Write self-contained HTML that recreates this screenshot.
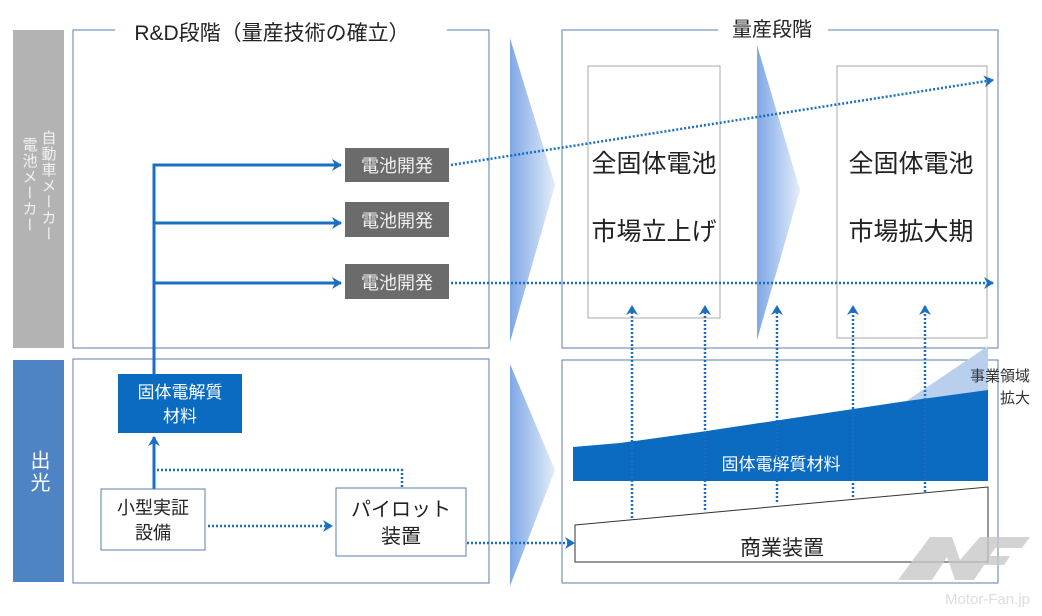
<!DOCTYPE html>
<html><head><meta charset="utf-8"><style>
html,body{margin:0;padding:0;background:#fff;}
svg{display:block;font-family:"Liberation Sans","Noto Sans CJK JP",sans-serif;}
</style></head><body>
<svg width="1042" height="616" viewBox="0 0 1042 616" xmlns="http://www.w3.org/2000/svg">
<defs>
<linearGradient id="chev" x1="0" y1="0" x2="1" y2="0">
<stop offset="0" stop-color="#7fa8e6"/><stop offset="1" stop-color="#e3edf9"/>
</linearGradient>
<marker id="ah" markerWidth="12" markerHeight="12" refX="9" refY="6" orient="auto" markerUnits="userSpaceOnUse">
<path d="M0,0 L10,6 L0,12 L3,6 Z" fill="#1a6fc0"/></marker>
</defs>
<rect x="13" y="30" width="51" height="318" fill="#b3b3b3"/>
<text font-size="15" fill="#f2f2f2" writing-mode="tb" x="48" y="130" letter-spacing="1">自動車メーカー</text>
<text font-size="15" fill="#f2f2f2" writing-mode="tb" x="29" y="137" letter-spacing="1">電池メーカー</text>
<rect x="13" y="360" width="51" height="222" fill="#4f84c4"/>
<text font-size="20" fill="#fff" writing-mode="tb" x="38" y="450" letter-spacing="2">出光</text>
<path d="M115,30 L73,30 L73,348 L489,348 L489,30 L447,30" fill="none" stroke="#5a7fae" stroke-width="1"/>
<text x="272" y="40" font-size="21" fill="#222" text-anchor="middle">R&amp;D段階（量産技術の確立）</text>
<rect x="73" y="359" width="416" height="224" fill="none" stroke="#5a7fae" stroke-width="1"/>
<polygon points="510,38 555,185 510,342" fill="url(#chev)"/>
<polygon points="510,364 555,470 510,586" fill="url(#chev)"/>
<polygon points="757,45 800,190 757,340" fill="url(#chev)"/>
<path d="M718,30 L562,30 L562,348 L998,348 L998,30 L828,30" fill="none" stroke="#5a7fae" stroke-width="1"/>
<text x="772" y="36" font-size="20" fill="#222" text-anchor="middle">量産段階</text>
<rect x="562" y="360" width="436" height="223" fill="none" stroke="#5a7fae" stroke-width="1"/>
<rect x="588" y="66" width="132" height="252" fill="#fff" stroke="#aaa" stroke-width="1"/>
<rect x="837" y="66" width="150" height="272" fill="#fff" stroke="#aaa" stroke-width="1"/>
<text x="654" y="172" font-size="25" fill="#222" text-anchor="middle">全固体電池</text>
<text x="654" y="240" font-size="25" fill="#222" text-anchor="middle">市場立上げ</text>
<text x="911" y="172" font-size="25" fill="#222" text-anchor="middle">全固体電池</text>
<text x="911" y="240" font-size="25" fill="#222" text-anchor="middle">市場拡大期</text>
<polygon points="905,402 988,346 988,392" fill="#b8d0ee"/>
<polygon points="573,447 620,443 700,432 800,417 900,402 988,390 988,481 573,481" fill="#0a6bc0"/>
<text x="781" y="470" font-size="17" fill="#fff" text-anchor="middle">固体電解質材料</text>
<polygon points="575,525 988,487 988,562 575,562" fill="#fff" stroke="#333" stroke-width="1"/>
<text x="782" y="555" font-size="21" fill="#222" text-anchor="middle">商業装置</text>
<text x="1030" y="381" font-size="15" fill="#333" text-anchor="end">事業領域</text>
<text x="1030" y="403" font-size="15" fill="#333" text-anchor="end">拡大</text>
<g stroke="#1a6fc0" stroke-width="2.5" stroke-dasharray="2,2" fill="none">
<line x1="632" y1="518" x2="632" y2="306" marker-end="url(#ah)"/>
<line x1="705" y1="510" x2="705" y2="306" marker-end="url(#ah)"/>
<line x1="777" y1="502" x2="777" y2="306" marker-end="url(#ah)"/>
<line x1="853" y1="497" x2="853" y2="306" marker-end="url(#ah)"/>
<line x1="925" y1="492" x2="925" y2="306" marker-end="url(#ah)"/>
<line x1="451" y1="165" x2="993" y2="80" marker-end="url(#ah)"/>
<line x1="451" y1="283" x2="993" y2="283" marker-end="url(#ah)"/>
<polyline points="157,470 402,470 402,488"/>
<line x1="208" y1="526" x2="332" y2="526" marker-end="url(#ah)"/>
<line x1="467" y1="543" x2="574" y2="543" marker-end="url(#ah)"/>
</g>
<g stroke="#1a6fc0" stroke-width="3" fill="none">
<polyline points="154,374 154,165 341,165" marker-end="url(#ah)"/>
<line x1="154" y1="223" x2="341" y2="223" marker-end="url(#ah)"/>
<line x1="154" y1="283" x2="341" y2="283" marker-end="url(#ah)"/>
<line x1="154" y1="489" x2="154" y2="437" marker-end="url(#ah)"/>
</g>
<g font-size="18" fill="#f0f0f0" text-anchor="middle">
<rect x="345" y="148" width="104" height="34" fill="#6b6b6b"/><text x="397" y="172">電池開発</text>
<rect x="345" y="202" width="104" height="35" fill="#6b6b6b"/><text x="397" y="227">電池開発</text>
<rect x="345" y="264" width="104" height="35" fill="#6b6b6b"/><text x="397" y="289">電池開発</text>
</g>
<rect x="118" y="374" width="124" height="59" fill="#0a6bc0"/>
<text x="180" y="398" font-size="17" fill="#fff" text-anchor="middle">固体電解質</text>
<text x="180" y="422" font-size="17" fill="#fff" text-anchor="middle">材料</text>
<rect x="101" y="489" width="104" height="61" fill="#fff" stroke="#5a7fae"/>
<text x="153" y="514" font-size="18" fill="#222" text-anchor="middle">小型実証</text>
<text x="153" y="539" font-size="18" fill="#222" text-anchor="middle">設備</text>
<rect x="336" y="488" width="130" height="68" fill="#fff" stroke="#5a7fae"/>
<text x="401" y="516" font-size="20" fill="#222" text-anchor="middle">パイロット</text>
<text x="401" y="543" font-size="20" fill="#222" text-anchor="middle">装置</text>
<polygon points="898,580 930,537 952,537 960,560 980,537 1030,537 1022,548 995,548 990,556 1010,556 1004,565 984,565 974,580 955,580 947,557 932,580" fill="#c8c8c8" opacity="0.8"/>
<text x="1030" y="604" font-size="15" fill="#ddd" text-anchor="end">Motor-Fan.jp</text>
</svg>
</body></html>
